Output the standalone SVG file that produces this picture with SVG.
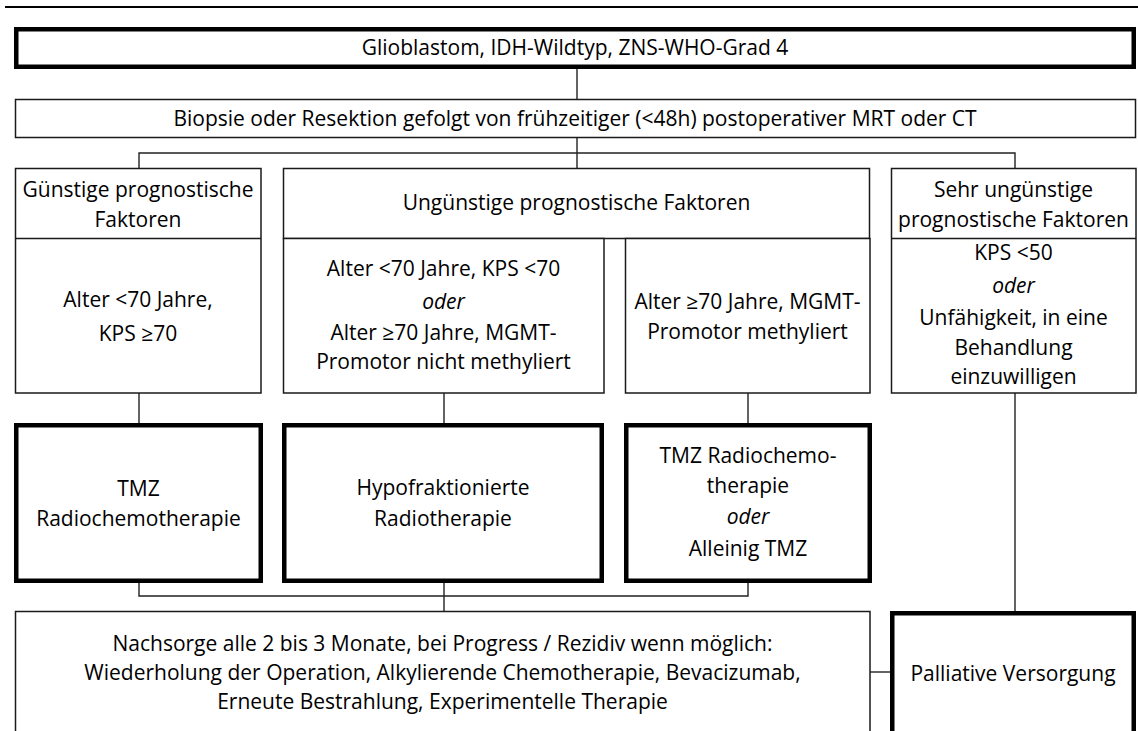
<svg xmlns="http://www.w3.org/2000/svg" width="1138" height="731" viewBox="0 0 1138 731">
<style>
text{font-family:"Open Sans","Noto Sans","Liberation Sans",sans-serif;font-size:21px;fill:#000;text-anchor:middle}
.it{font-style:italic}
.thin{fill:#fff;stroke:#1a1a1a;stroke-width:1.5}
.thick{fill:#fff;stroke:#000;stroke-width:4.5}
.con{fill:none;stroke:#222;stroke-width:1.4}
</style>
<rect width="1138" height="731" fill="#fff"/>
<line x1="5" y1="7" x2="1138" y2="7" stroke="#000" stroke-width="2"/>
<g id="connectors">
<path class="con" d="M577 69V99"/>
<path class="con" d="M577 137V168"/>
<path class="con" d="M139 168V153H1015V168"/>
<path class="con" d="M139 393V423"/>
<path class="con" d="M444 393V423"/>
<path class="con" d="M748 393V423"/>
<path class="con" d="M1015 393V611"/>
<path class="con" d="M139 583V596H748V583"/>
<path class="con" d="M444 583V611"/>
<path class="con" d="M870 672H890"/>
</g>
<g id="title">
<rect class="thick" x="16.25" y="29.25" width="1117.5" height="37.5"/>
<text x="575" y="55">Glioblastom, IDH-Wildtyp, ZNS-WHO-Grad 4</text>
</g>
<g id="biopsy">
<rect class="thin" x="15.5" y="99.5" width="1120" height="38"/>
<text x="575" y="126">Biopsie oder Resektion gefolgt von frühzeitiger (&lt;48h) postoperativer MRT oder CT</text>
</g>
<g id="guenstig">
<rect class="thin" x="15.5" y="168.5" width="245.5" height="224.5"/>
<line class="thin" x1="15.5" y1="238.5" x2="261" y2="238.5"/>
<text x="138" y="197">Günstige prognostische</text>
<text x="138" y="227">Faktoren</text>
<text x="138" y="307">Alter &lt;70 Jahre,</text>
<text x="138" y="341">KPS ≥70</text>
</g>
<g id="unguenstig">
<rect class="thin" x="283.5" y="168.5" width="586" height="70"/>
<text x="576.5" y="210">Ungünstige prognostische Faktoren</text>
</g>
<g id="unguenstig-a">
<rect class="thin" x="283.5" y="238.5" width="320.5" height="154.5"/>
<text x="443.5" y="276">Alter &lt;70 Jahre, KPS &lt;70</text>
<text class="it" x="443.5" y="309">oder</text>
<text x="443.5" y="340">Alter ≥70 Jahre, MGMT-</text>
<text x="443.5" y="369">Promotor nicht methyliert</text>
</g>
<g id="unguenstig-b">
<rect class="thin" x="625.5" y="238.5" width="244.5" height="154.5"/>
<text x="747.5" y="309">Alter ≥70 Jahre, MGMT-</text>
<text x="747.5" y="339">Promotor methyliert</text>
</g>
<g id="sehr-unguenstig">
<rect class="thin" x="891.5" y="168.5" width="244.5" height="224.5"/>
<line class="thin" x1="891.5" y1="238.5" x2="1136" y2="238.5"/>
<text x="1013.5" y="197">Sehr ungünstige</text>
<text x="1013.5" y="227">prognostische Faktoren</text>
<text x="1013.5" y="260">KPS &lt;50</text>
<text class="it" x="1013.5" y="293">oder</text>
<text x="1013.5" y="325">Unfähigkeit, in eine</text>
<text x="1013.5" y="355">Behandlung</text>
<text x="1013.5" y="384">einzuwilligen</text>
</g>
<g id="tmz">
<rect class="thick" x="16.25" y="425.25" width="244.5" height="155.5"/>
<text x="138.5" y="496">TMZ</text>
<text x="138.5" y="526">Radiochemotherapie</text>
</g>
<g id="hypo">
<rect class="thick" x="284.25" y="425.25" width="317.5" height="155.5"/>
<text x="443" y="495">Hypofraktionierte</text>
<text x="443" y="526">Radiotherapie</text>
</g>
<g id="tmz-alt">
<rect class="thick" x="626.25" y="425.25" width="243.5" height="155.5"/>
<text x="748" y="463">TMZ Radiochemo-</text>
<text x="748" y="493">therapie</text>
<text class="it" x="748" y="524">oder</text>
<text x="748" y="556">Alleinig TMZ</text>
</g>
<g id="nachsorge">
<rect class="thin" x="15.5" y="611.5" width="854.5" height="140"/>
<text x="442.5" y="651">Nachsorge alle 2 bis 3 Monate, bei Progress / Rezidiv wenn möglich:</text>
<text x="442.5" y="680">Wiederholung der Operation, Alkylierende Chemotherapie, Bevacizumab,</text>
<text x="442.5" y="709">Erneute Bestrahlung, Experimentelle Therapie</text>
</g>
<g id="palliativ">
<rect class="thick" x="892.25" y="613.25" width="241.5" height="140"/>
<text x="1013" y="681">Palliative Versorgung</text>
</g>
</svg>
